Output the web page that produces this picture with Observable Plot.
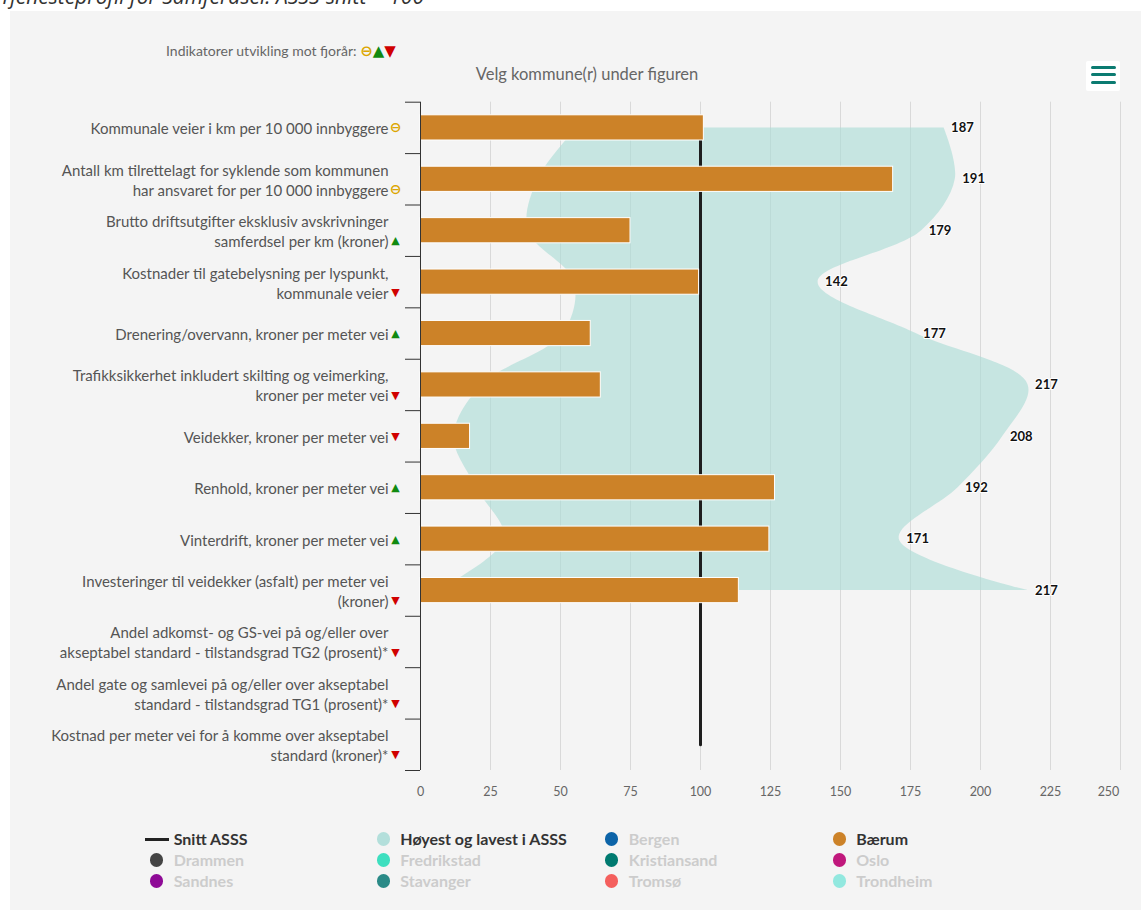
<!DOCTYPE html>
<html>
<head>
<meta charset="utf-8">
<script src="https://cdn.jsdelivr.net/npm/d3@7"></script>
<script src="https://cdn.jsdelivr.net/npm/@observablehq/plot@0.6"></script>
<style>
  html, body { margin: 0; padding: 0; background: #fff; }
  body { width: 1141px; height: 910px; position: relative; overflow: hidden; font-family: Lato, "Open Sans", sans-serif; }
  #title { position: absolute; left: 0; top: -13.6px; font: italic 21px/21px "Open Sans", sans-serif; color: #333; white-space: nowrap; }
  #panel { position: absolute; left: 10px; top: 11px; width: 1131px; height: 899px; background: #f4f4f4; }
  #indik { position: absolute; left: 166px; top: 42px; font-size: 14px; line-height: 18px; color: #666; white-space: nowrap; }
  #indik .g { font-family: "DejaVu Sans", sans-serif; font-size: 15px; }
  #velg { position: absolute; left: 0; width: 1174px; top: 64px; text-align: center; font-size: 16.5px; line-height: 20px; color: #666; }
  #menu { position: absolute; left: 1086px; top: 61px; width: 34px; height: 30px; background: #fff; border-radius: 2px; }
  #menu div { position: absolute; left: 5px; width: 25px; height: 3.4px; border-radius: 2px; background: #0b7b71; }
  #chart { position: absolute; left: 0; top: 90px; }
  #legend { position: absolute; left: 0; top: 0; }
  .li { position: absolute; font-size: 16px; font-weight: bold; line-height: 20px; white-space: nowrap; }
  .sym { position: absolute; }
</style>
</head>
<body>
<div id="title">Tjenesteprofil for Samferdsel. ASSS-snitt = 100</div>
<div id="panel"></div>
<div id="indik">Indikatorer utvikling mot fjorår: <span class="g" style="color:#dca600;font-weight:bold">⊖</span><span class="g" style="color:#108a10">▲</span><span class="g" style="color:#d00000">▼</span></div>
<div id="velg">Velg kommune(r) under figuren</div>
<div id="menu"><div style="top:5px"></div><div style="top:12px"></div><div style="top:19.5px"></div></div>
<div id="chart"></div>
<div id="legend"></div>
<script>
// ---- data ----
const categories = [
  "Kommunale veier i km per 10 000 innbyggere",
  "Antall km tilrettelagt for syklende som kommunen\nhar ansvaret for per 10 000 innbyggere",
  "Brutto driftsutgifter eksklusiv avskrivninger\nsamferdsel per km (kroner)",
  "Kostnader til gatebelysning per lyspunkt,\nkommunale veier",
  "Drenering/overvann, kroner per meter vei",
  "Trafikksikkerhet inkludert skilting og veimerking,\nkroner per meter vei",
  "Veidekker, kroner per meter vei",
  "Renhold, kroner per meter vei",
  "Vinterdrift, kroner per meter vei",
  "Investeringer til veidekker (asfalt) per meter vei\n(kroner)",
  "Andel adkomst- og GS-vei på og/eller over\nakseptabel standard - tilstandsgrad TG2 (prosent)*",
  "Andel gate og samlevei på og/eller over akseptabel\nstandard - tilstandsgrad TG1 (prosent)*",
  "Kostnad per meter vei for å komme over akseptabel\nstandard (kroner)*"
];
const indicators = ["same", "same", "up", "down", "up", "down", "down", "up", "up", "down", "down", "down", "down"];
const baerum = [101.2, 168.8, 75, 99.5, 60.8, 64.4, 17.7, 126.6, 124.6, 113.7, null, null, null];
const asssMax = [187, 191, 179, 142, 177, 217, 208, 192, 171, 217, null, null, null];
const asssMin = [56, 42, 38.5, 55, 51, 22, 12, 20, 30, 6, null, null, null];
const snitt = [100, 100, 100, 100, 100, 100, 100, 100, 100, 100, 100, 100, 100];
const xTicks = [0, 25, 50, 75, 100, 125, 150, 175, 200, 225, 250];

const legendNames = ["Snitt ASSS", "Høyest og lavest i ASSS", "Bergen", "Bærum", "Drammen", "Fredrikstad", "Kristiansand", "Oslo", "Sandnes", "Stavanger", "Tromsø", "Trondheim"];
const legendColors = ["#222222", "#b3dfdb", "#0c64a8", "#cc8228", "#444444", "#3ddfbf", "#007a70", "#c0187c", "#8e0a96", "#2a8a87", "#f45f5d", "#92e8df"];
const legendActive = [true, true, false, true, false, false, false, false, false, false, false, false];

// ---- tables ----
const indSymbol = {same: "⊖", up: "▲", down: "▼"};
const indColor = {same: "#dca600", up: "#108a10", down: "#d00000"};
const indSize = {same: 14, up: 11, down: 11};
const rows = categories.map((c, i) => ({
  i, label: c, two: c.includes("\n"),
  ind: indSymbol[indicators[i]], indFill: indColor[indicators[i]], indSize: indSize[indicators[i]],
  baerum: baerum[i], max: asssMax[i], min: asssMin[i], snitt: snitt[i]
}));
const rangeRows = rows.filter(d => d.max != null);
const barRows = rows.filter(d => d.baerum != null);
const bounds = d3.range(categories.length + 1).map(k => k - 0.5);
const lineH = 1.34, fs = 15;

const chart = Plot.plot({
  width: 1141, height: 720,
  marginLeft: 420, marginRight: 21, marginTop: 11.7, marginBottom: 40,
  style: {background: "transparent", fontFamily: "Lato, sans-serif", overflow: "visible"},
  x: {type: "linear", domain: [0, 250]},
  y: {type: "linear", domain: [-0.5, 12.5], reverse: true},
  marks: [
    Plot.ruleX(xTicks.filter(t => t > 0), {stroke: "#d9d9d9", strokeWidth: 1}),
    Plot.areaX(rangeRows, {y: "i", x1: "min", x2: "max", curve: "catmull-rom", fill: "#a9dcd5", fillOpacity: 0.62}),
    Plot.line(rows, {x: "snitt", y: "i", stroke: "#1e1e1e", strokeWidth: 3}),
    Plot.rect(barRows, {x1: 0, x2: "baerum", y1: d => d.i - 0.245, y2: d => d.i + 0.245, fill: "#cc8228", stroke: "#ffffff", strokeWidth: 1}),
    Plot.text(rangeRows, {x: "max", y: "i", text: d => String(d.max), dx: 7, textAnchor: "start", fontSize: 13, fontWeight: "bold", fill: "#111", stroke: "#fff", strokeWidth: 2}),
    Plot.ruleX([0], {stroke: "#333", strokeWidth: 1}),
    Plot.axisY({ticks: bounds, tickSize: 15, tickFormat: () => "", stroke: "#333", label: null}),
    Plot.axisX({ticks: xTicks.slice(0, -1), tickSize: 0, tickPadding: 17, fontSize: 12.5, color: "#666", label: null}),
    Plot.axisX({ticks: xTicks.slice(-1), tickSize: 0, tickPadding: 17, dx: -12, fontSize: 12.5, color: "#666", label: null}),
    Plot.text(rows, {y: "i", text: "label", frameAnchor: "left", dx: -32, textAnchor: "end", fontSize: fs, lineHeight: lineH, fill: "#555"}),
    Plot.text(rows.filter(d => !d.two), {y: "i", text: "ind", frameAnchor: "left", dx: -25, textAnchor: "middle", fontSize: d => d.indSize, fontWeight: "bold", fontFamily: "DejaVu Sans", fill: "indFill"}),
    Plot.text(rows.filter(d => d.two), {y: "i", text: "ind", frameAnchor: "left", dx: -25, dy: fs * lineH / 2, textAnchor: "middle", fontSize: d => d.indSize, fontWeight: "bold", fontFamily: "DejaVu Sans", fill: "indFill"})
  ]
});
document.getElementById("chart").appendChild(chart);

// ---- legend ----
const legend = document.getElementById("legend");
const colX = [156.7, 383.3, 611.7, 839.3];
const rowY = [839, 860, 881];
legendNames.forEach((name, k) => {
  const cx = colX[k % 4], cy = rowY[Math.floor(k / 4)];
  const sym = document.createElement("div");
  sym.className = "sym";
  if (k === 0) {
    Object.assign(sym.style, {left: (cx - 12) + "px", top: (cy - 1.5) + "px", width: "24px", height: "3px", background: legendColors[k]});
  } else {
    Object.assign(sym.style, {left: (cx - 6.8) + "px", top: (cy - 6.8) + "px", width: "13.6px", height: "13.6px", borderRadius: "50%", background: legendColors[k]});
  }
  legend.appendChild(sym);
  const t = document.createElement("div");
  t.className = "li";
  t.textContent = name;
  Object.assign(t.style, {left: (cx + 17) + "px", top: (cy - 10.5) + "px", color: legendActive[k] ? "#333" : "#cccccc"});
  legend.appendChild(t);
});
</script>
</body>
</html>
